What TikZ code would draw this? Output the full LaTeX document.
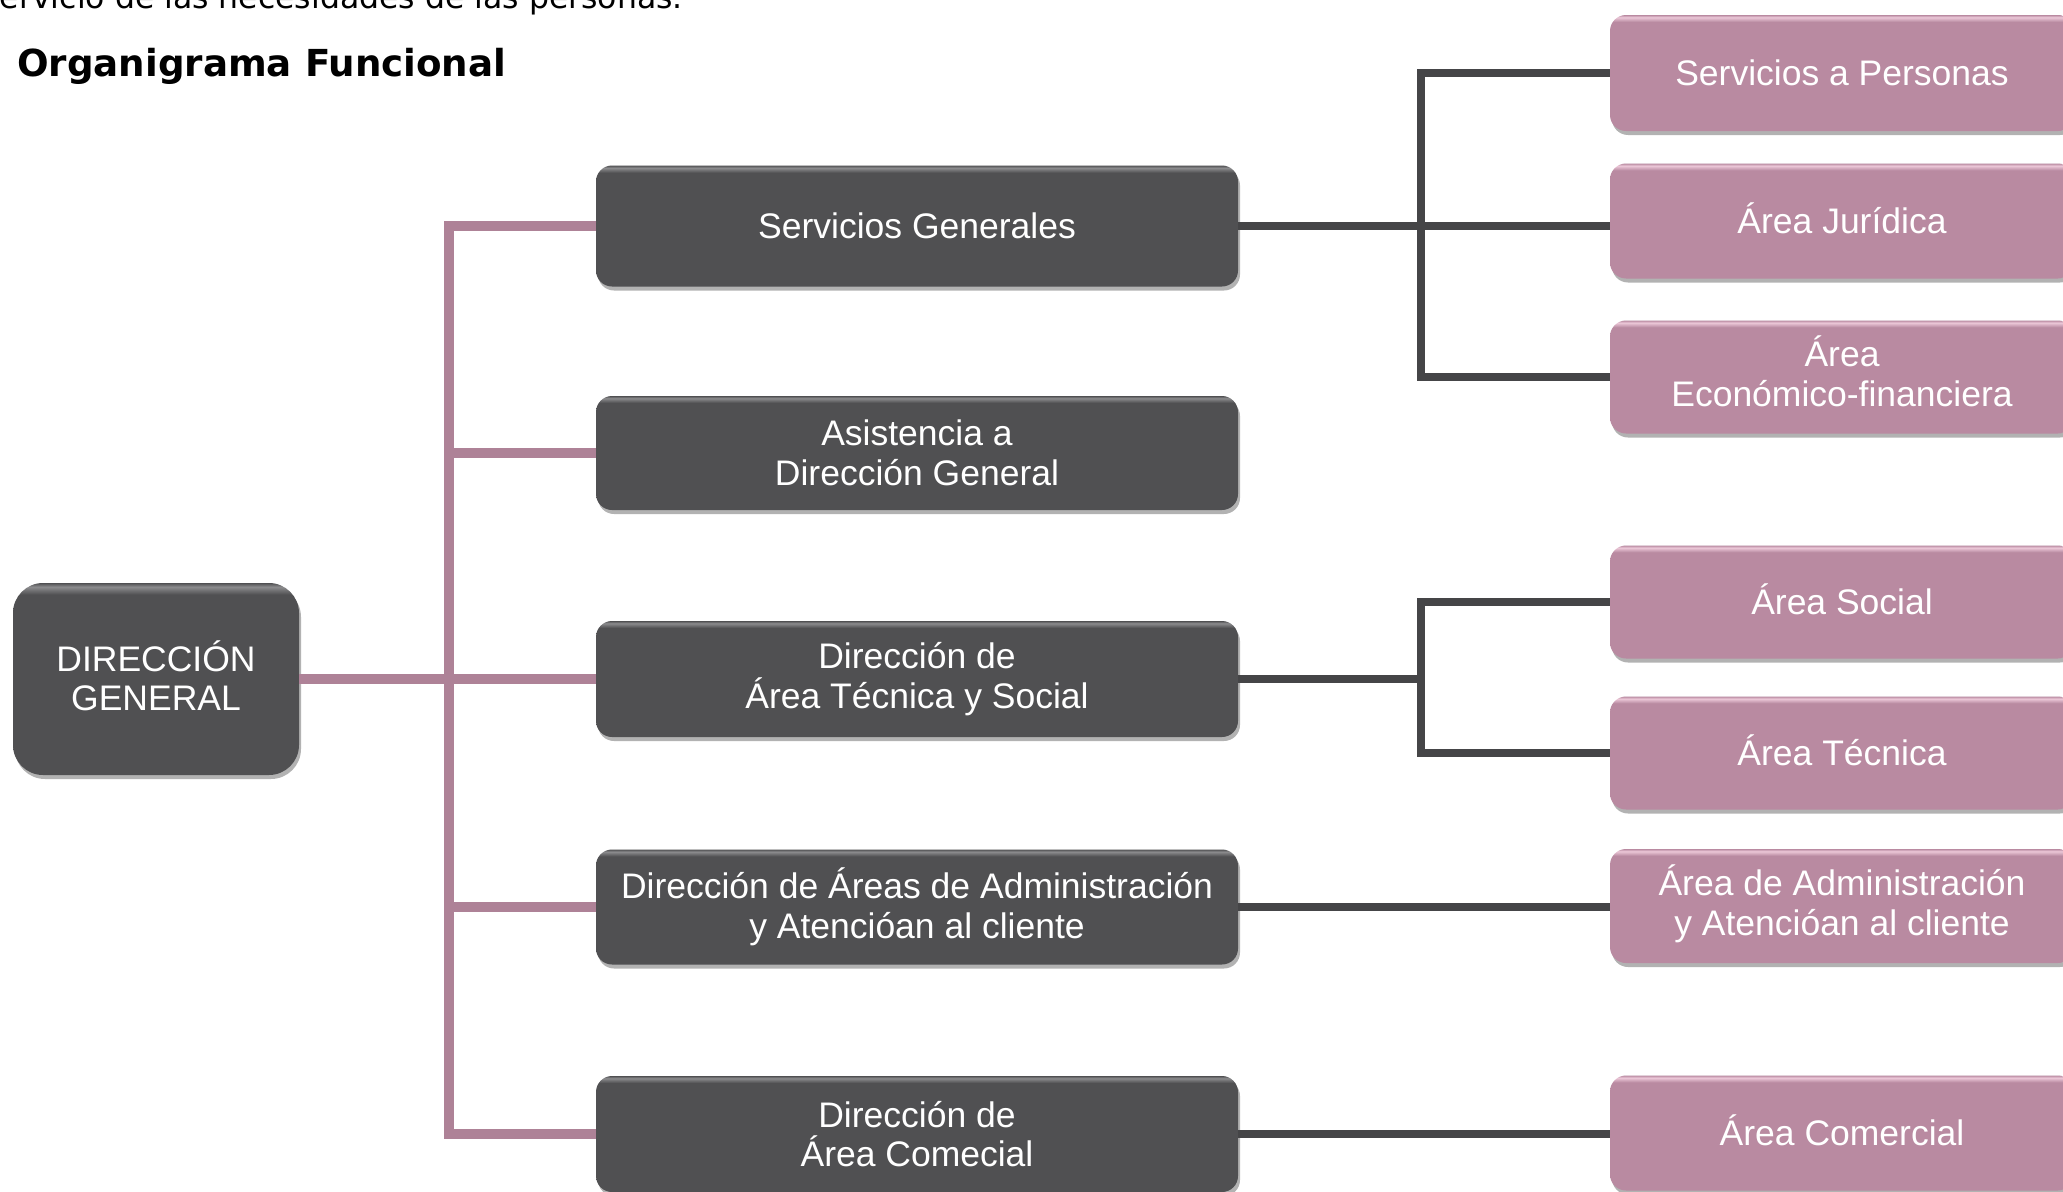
\documentclass[tikz,border=0pt]{standalone}
\usepackage{fontspec}
\setmainfont{Liberation Sans}
\newfontfamily\ttlfont{DejaVu Sans}
\usetikzlibrary{shadows}
\definecolor{boxdark}{HTML}{505052}
\definecolor{boxdarkhi}{HTML}{8C8C8E}
\definecolor{boxpink}{HTML}{B98AA1}
\definecolor{boxpinkhi}{HTML}{ECC8D8}
\definecolor{linepink}{HTML}{AE8297}
\definecolor{linedark}{HTML}{454547}
\pgfdeclareverticalshading{darkshade}{100bp}{color(0bp)=(boxdark); color(72bp)=(boxdark); color(74bp)=(boxdarkhi); color(75bp)=(boxdark); color(100bp)=(boxdark)}
\pgfdeclareverticalshading{pinkshade}{100bp}{color(0bp)=(boxpink); color(72bp)=(boxpink); color(74bp)=(boxpinkhi); color(75bp)=(boxpink); color(100bp)=(boxpink)}
\newcommand\bxfont{\fontsize{35.5}{39.5}\selectfont}
\tikzset{
  boxbase/.style={rectangle, draw=none, text=white, inner sep=0pt, align=center,
    font=\bxfont, drop shadow={shadow xshift=2pt, shadow yshift=-4pt, opacity=0.3, fill=black}},
  dbox/.style={boxbase, rounded corners=16pt, shading=darkshade, minimum width=642pt},
  pbox/.style={boxbase, rounded corners=16pt, shading=pinkshade, minimum width=464pt},
  pline/.style={draw=linepink, line width=10pt, line join=miter},
  dline/.style={draw=linedark, line width=8pt, line join=miter},
}
\begin{document}
\begin{tikzpicture}[x=1pt,y=-1pt]
\useasboundingbox (0,0) rectangle (2063,1191);
\clip (0,0) rectangle (2063,1191);

% header texts
\node[anchor=base east, inner sep=0pt, font=\ttlfont\fontsize{31.5}{36}\selectfont] (toptext) at (683,9) {servicio de las necesidades de las personas.};
\node[anchor=base west, inner sep=0pt, font=\ttlfont\bfseries\fontsize{37.2}{42}\selectfont] (title) at (17,76) {Organigrama Funcional};

% root
\node[boxbase, rounded corners=30pt, shading=darkshade, minimum width=286pt, minimum height=192pt] (dg) at (156,679) {DIRECCI\smash{Ó}N\\GENERAL};

% middle column
\node[dbox, minimum height=121pt] (sg)  at (917,226)  {Servicios Generales};
\node[dbox, minimum height=114pt] (asi) at (917,453)  {Asistencia a\\Dirección General};
\node[dbox, minimum height=116pt] (dat) at (917,679)  {Dirección de\\Área Técnica y Social};
\node[dbox, minimum height=115pt] (daa) at (917,907)  {Dirección de Áreas de Administración\\y Atencióan al cliente};
\node[dbox, minimum height=116pt] (dac) at (917,1134) {Dirección de\\Área Comecial};

% right column
\node[pbox, minimum height=116pt] (r1) at (1842,73)   {Servicios a Personas};
\node[pbox, minimum height=115pt] (r2) at (1842,221)  {\smash{Á}rea Jurídica};
\node[pbox, minimum height=113pt] (r3) at (1842,377)  {\smash{Á}rea\\Económico-financiera};
\node[pbox, minimum height=113pt] (r4) at (1842,602)  {\smash{Á}rea Social};
\node[pbox, minimum height=113pt] (r5) at (1842,753)  {\smash{Á}rea Técnica};
\node[pbox, minimum height=114pt] (r6) at (1842,906)  {\smash{Á}rea de Administración\\y Atencióan al cliente};
\node[pbox, minimum height=115pt] (r7) at (1842,1133) {\smash{Á}rea Comercial};

% pink connectors
\coordinate (sp) at (449,0);
\draw[pline] (sg.west) -- (sg.west -| sp) -- (dac.west -| sp) -- (dac.west);
\draw[pline] (asi.west) -- (asi.west -| sp);
\draw[pline] (dg.east) -- (dat.west);
\draw[pline] (daa.west) -- (daa.west -| sp);

% dark connectors
\coordinate (sq) at (1421,0);
\draw[dline] (r1.west) -- (r1.west -| sq) -- (r3.west -| sq) -- (r3.west);
\draw[dline] (sg.east) -- (sg.east -| r2.west);
\draw[dline] (r4.west) -- (r4.west -| sq) -- (r5.west -| sq) -- (r5.west);
\draw[dline] (dat.east) -- (dat.east -| sq);
\draw[dline] (daa.east) -- (daa.east -| r6.west);
\draw[dline] (dac.east) -- (dac.east -| r7.west);
\end{tikzpicture}
\end{document}
